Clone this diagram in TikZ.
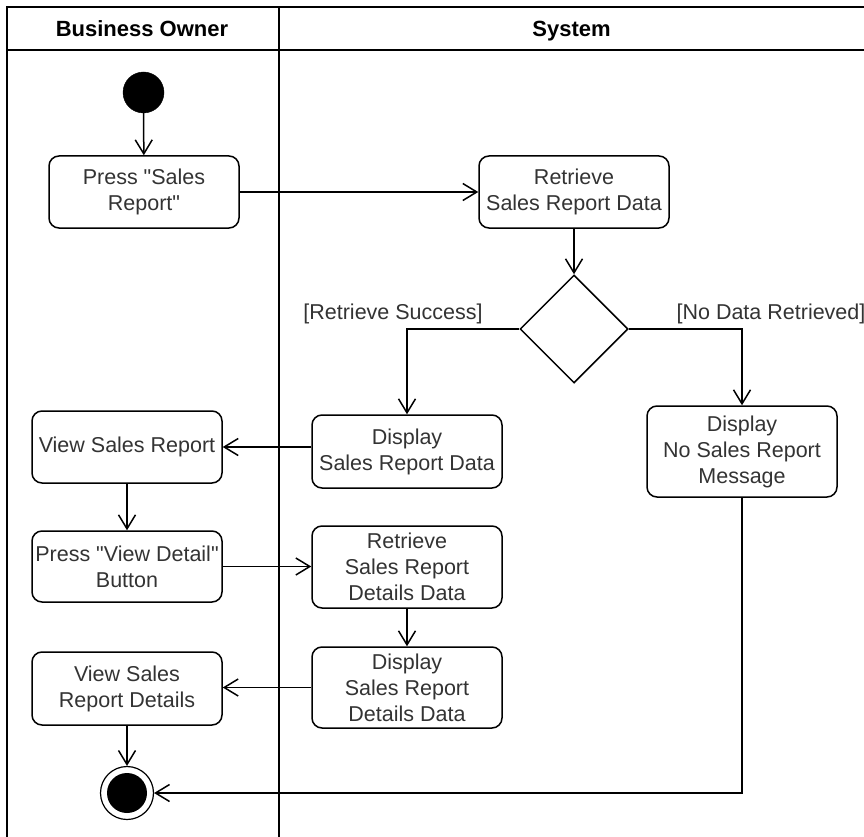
\documentclass[tikz,border=0pt]{standalone}
\usepackage{fontspec}
\setmainfont{Liberation Sans}
\usetikzlibrary{shapes.geometric,arrows.meta}

\begin{document}
\begin{tikzpicture}[x=1pt,y=-1pt,
			actnode/.style={draw, rounded corners=10pt, minimum width=190pt, minimum height=72pt, align=center, line width=1.5pt, inner sep=2pt, text=black!80, font=\fontsize{21.5}{26}\selectfont},
			decnode/.style={draw, diamond, minimum width=108pt, minimum height=108pt, inner sep=0pt, line width=1.5pt},
			flow/.style={line width=1.5pt, -{Straight Barb[length=14pt,width=17pt]}},
			guard/.style={anchor=base, text=black!80, font=\fontsize{21.5}{26}\selectfont},
			lanetitle/.style={anchor=base, font=\fontsize{22}{26}\selectfont\bfseries}
		]
		\useasboundingbox (0,0) rectangle (864,837);

		\draw[line width=1.8pt] (7,880) -- (7,7) -- (880,7);
		\draw[line width=1.8pt] (7,50) -- (880,50);
		\draw[line width=1.8pt] (279,7) -- (279,880);

		\node[lanetitle] (ownerTitle) at (142,36.5) {Business Owner};
		\node[lanetitle] (systemTitle) at (571.5,36.5) {System};

		\node[draw, circle, fill=black, minimum size=41pt, inner sep=0pt] (start) at (143.5,92.5) {};

		\node[actnode] (pressSales) at (144,192) {Press \textquotedbl Sales\\Report\textquotedbl};
		\node[actnode] (retrieve) at (574,192) {Retrieve\\Sales Report Data};
		\node[decnode] (dec) at (574,329) {};
		\node[actnode, minimum height=73pt] (showData) at (407,451.5) {Display\\Sales Report Data};
		\node[actnode, minimum height=91pt] (noData) at (742,451.5) {Display\\No Sales Report\\Message};

		\node[actnode] (viewReport) at (127,447) {View Sales Report};
		\node[actnode, minimum height=71pt] (pressDetail) at (127,566.5) {Press \textquotedbl View Detail\textquotedbl\\Button};
		\node[actnode, minimum height=82pt] (getDetails) at (407,567) {Retrieve\\Sales Report\\Details Data};
		\node[actnode, minimum height=81pt] (showDetails) at (407,687.5) {Display\\Sales Report\\Details Data};
		\node[actnode, minimum height=73pt] (viewDetails) at (127,688.5) {View Sales\\Report Details};

		\node[draw, circle, line width=1.2pt, minimum size=53pt, inner sep=0pt] (end) at (127,793) {};
		\node[circle, fill=black, minimum size=40pt, inner sep=0pt] (endDot) at (end) {};

		\draw[flow] (start) -- (pressSales);
		\draw[flow] (pressSales) -- (retrieve);
		\draw[flow] (retrieve) -- (dec);
		\draw[flow] (dec.west) -| (showData.north) node[guard, pos=0.5, xshift=-14pt, yshift=10pt] {[Retrieve Success]};
		\draw[flow] (dec.east) -| (noData.north) node[guard, pos=0.5, xshift=29pt, yshift=10pt] {[No Data Retrieved]};
		\draw[flow] (showData.west |- viewReport.east) -- (viewReport.east);
		\draw[flow] (viewReport) -- (pressDetail);
		\draw[flow] (pressDetail.east) -- (pressDetail.east -| getDetails.west);
		\draw[flow] (getDetails) -- (showDetails);
		\draw[flow] (showDetails.west) -- (showDetails.west -| viewDetails.east);
		\draw[flow] (viewDetails) -- (end);
		\draw[flow] (noData.south) |- (end.east);
	\end{tikzpicture}
\end{document}
